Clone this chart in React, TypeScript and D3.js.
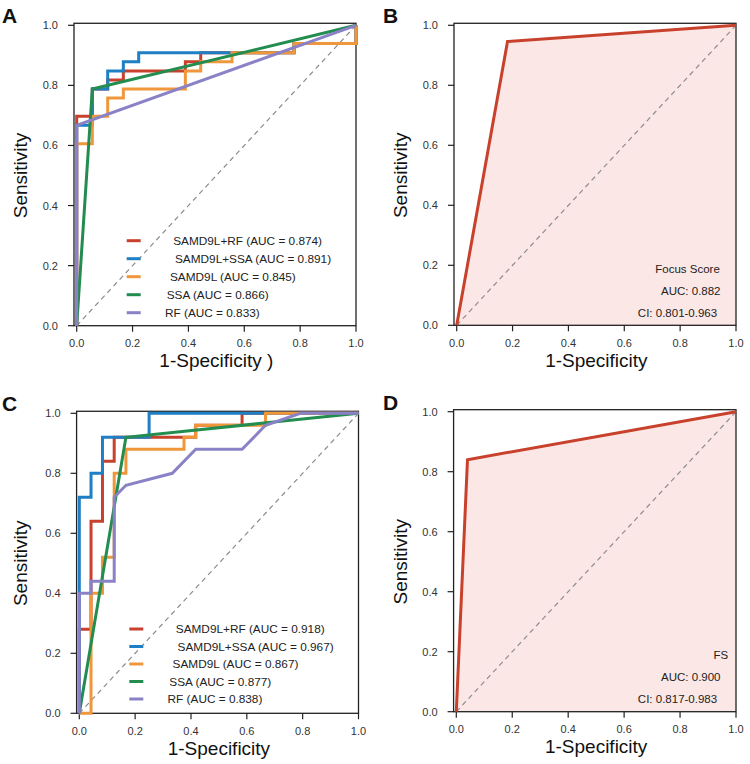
import React from "react";
import * as d3 from "d3";

// ---------- DATA ----------
const ticks = [0, 0.2, 0.4, 0.6, 0.8, 1.0];

const seriesNames = ["SAMD9L+RF", "SAMD9L+SSA", "SAMD9L", "SSA", "RF"];
const aucA = ["0.874", "0.891", "0.845", "0.866", "0.833"];
const aucC = ["0.918", "0.967", "0.867", "0.877", "0.838"];
const seriesColors = ["#c8412c", "#1f7fc4", "#ef973a", "#238c4f", "#8a82c7"];

// Panel A ROC vertices [1-specificity, sensitivity]
const rocA_rf_combo: [number, number][] = [
  [0, 0], [0, 0.697], [0.056, 0.697], [0.056, 0.788], [0.111, 0.788], [0.111, 0.818],
  [0.167, 0.818], [0.167, 0.848], [0.389, 0.848], [0.389, 0.879], [0.444, 0.879],
  [0.444, 0.909], [0.778, 0.909], [0.778, 0.939], [1, 0.939], [1, 1],
];
const rocA_ssa_combo: [number, number][] = [
  [0, 0], [0, 0.667], [0.056, 0.667], [0.056, 0.788], [0.111, 0.788], [0.111, 0.848],
  [0.167, 0.848], [0.167, 0.879], [0.222, 0.879], [0.222, 0.909], [0.778, 0.909],
  [0.778, 0.939], [1, 0.939], [1, 1],
];
const rocA_samd9l: [number, number][] = [
  [0, 0], [0, 0.606], [0.056, 0.606], [0.056, 0.697], [0.111, 0.697], [0.111, 0.758],
  [0.167, 0.758], [0.167, 0.788], [0.389, 0.788], [0.389, 0.848], [0.444, 0.848],
  [0.444, 0.879], [0.556, 0.879], [0.556, 0.909], [0.778, 0.909], [0.778, 0.939],
  [1, 0.939], [1, 1],
];
const rocA_ssa: [number, number][] = [[0, 0], [0.056, 0.788], [1, 1]];
const rocA_rf: [number, number][] = [[0, 0], [0, 0.667], [1, 1]];

// Panel C ROC vertices
const rocC_rf_combo: [number, number][] = [
  [0, 0], [0, 0.28], [0.042, 0.28], [0.042, 0.64], [0.083, 0.64], [0.083, 0.84],
  [0.125, 0.84], [0.125, 0.92], [0.417, 0.92], [0.417, 0.96], [0.583, 0.96],
  [0.583, 1], [1, 1],
];
const rocC_ssa_combo: [number, number][] = [
  [0, 0], [0, 0.72], [0.042, 0.72], [0.042, 0.8], [0.083, 0.8], [0.083, 0.92],
  [0.25, 0.92], [0.25, 1], [1, 1],
];
const rocC_samd9l: [number, number][] = [
  [0, 0], [0.042, 0], [0.042, 0.4], [0.083, 0.4], [0.083, 0.52], [0.125, 0.52],
  [0.125, 0.8], [0.167, 0.8], [0.167, 0.88], [0.375, 0.88], [0.375, 0.92],
  [0.417, 0.92], [0.417, 0.96], [0.667, 0.96], [0.667, 1], [1, 1],
];
const rocC_ssa: [number, number][] = [[0, 0], [0.167, 0.92], [1, 1]];
const rocC_rf: [number, number][] = [
  [0, 0], [0, 0.4], [0.042, 0.4], [0.042, 0.44], [0.125, 0.44], [0.125, 0.72],
  [0.167, 0.76], [0.333, 0.8], [0.417, 0.88], [0.583, 0.88], [0.667, 0.96],
  [0.792, 1], [1, 1],
];

// Panel B / D single-threshold ROC
const rocFocusScore: [number, number][] = [[0, 0], [0.182, 0.946], [1, 1]];
const rocFS: [number, number][] = [[0, 0], [0.04, 0.84], [1, 1]];
const annotB = ["Focus Score", "AUC: 0.882", "CI: 0.801-0.963"];
const annotD = ["FS", "AUC: 0.900", "CI: 0.817-0.983"];

// ---------- LAYOUT ----------
const FONT = "Arial, 'Liberation Sans', Helvetica, sans-serif";
const W = 750;
const H = 764;

type Panel = { letter: string; x0: number; x1: number; y0: number; y1: number; xTitle: string };
const panelA: Panel = { letter: "A", x0: 76.7, x1: 356, y0: 325.7, y1: 25.3, xTitle: "1-Specificity )" };
const panelB: Panel = { letter: "B", x0: 456.7, x1: 736, y0: 325.3, y1: 25.3, xTitle: "1-Specificity" };
const panelC: Panel = { letter: "C", x0: 79.3, x1: 358.5, y0: 713.3, y1: 413.3, xTitle: "1-Specificity" };
const panelD: Panel = { letter: "D", x0: 456.3, x1: 736, y0: 711.7, y1: 411.7, xTitle: "1-Specificity" };

const legendTextOffsets = [46.5, 48.3, 43.3, 40, 38.3];
const annotBX = [687.5, 690.8, 677.5];
const annotDX = [720.8, 690.8, 677.5];

function Frame({ p, children }: { p: Panel; children?: React.ReactNode }) {
  const x = d3.scaleLinear().domain([0, 1]).range([p.x0, p.x1]);
  const y = d3.scaleLinear().domain([0, 1]).range([p.y0, p.y1]);
  const boxLeft = x(-0.0097);
  const boxTop = y(1.0067);
  const tickLen = 6;
  const cx = (p.x0 + p.x1) / 2;
  const cy = (p.y0 + p.y1) / 2;
  const isLeft = p.x0 < 300;
  const letterX = isLeft ? 2 : 383;
  return (
    <g>
      {children}
      <line x1={x(0)} y1={y(0)} x2={x(1)} y2={y(1)} stroke="#8c8c8c" strokeWidth={1.2} strokeDasharray="5,4" />
      <rect x={boxLeft} y={boxTop} width={p.x1 - boxLeft} height={p.y0 - boxTop} fill="none" stroke="#222" strokeWidth={1.3} />
      {ticks.map((t) => (
        <g key={"y" + t}>
          <line x1={boxLeft - tickLen} x2={boxLeft} y1={y(t)} y2={y(t)} stroke="#222" strokeWidth={1.2} />
          <text x={boxLeft - 16} y={y(t) + 4} textAnchor="end" fontSize={11} fill="#333" fontFamily={FONT}>
            {d3.format(".1f")(t)}
          </text>
        </g>
      ))}
      {ticks.map((t) => (
        <g key={"x" + t}>
          <line x1={x(t)} x2={x(t)} y1={p.y0} y2={p.y0 + tickLen} stroke="#222" strokeWidth={1.2} />
          <text x={x(t)} y={p.y0 + 21.5} textAnchor="middle" fontSize={11} fill="#333" fontFamily={FONT}>
            {d3.format(".1f")(t)}
          </text>
        </g>
      ))}
      <text x={cx} y={p.y0 + 41.7} textAnchor="middle" fontSize={19} fill="#111" fontFamily={FONT}>
        {p.xTitle}
      </text>
      <text
        transform={`translate(${isLeft ? 27 : 407},${cy}) rotate(-90)`}
        textAnchor="middle"
        fontSize={19}
        fill="#111"
        fontFamily={FONT}
      >
        Sensitivity
      </text>
      <text x={letterX} y={p.y1 - 2} fontSize={21} fontWeight="bold" fill="#111" fontFamily={FONT}>
        {p.letter}
      </text>
    </g>
  );
}

function MultiPanel({ p, curves, aucs, legendX, legendY, legendStep }: {
  p: Panel; curves: [number, number][][]; aucs: string[]; legendX: number; legendY: number; legendStep: number;
}) {
  const x = d3.scaleLinear().domain([0, 1]).range([p.x0, p.x1]);
  const y = d3.scaleLinear().domain([0, 1]).range([p.y0, p.y1]);
  const line = d3.line<[number, number]>().x((d) => x(d[0])).y((d) => y(d[1]));
  return (
    <g>
      <Frame p={p} />
      {curves.map((c, i) => (
        <path key={i} d={line(c) || ""} fill="none" stroke={seriesColors[i]} strokeWidth={3} strokeLinejoin="miter" />
      ))}
      {seriesNames.map((n, i) => (
        <g key={n}>
          <line x1={legendX} x2={legendX + 14} y1={legendY + i * legendStep} y2={legendY + i * legendStep}
            stroke={seriesColors[i]} strokeWidth={3} />
          <text x={legendX + legendTextOffsets[i]} y={legendY + i * legendStep + 4.2} fontSize={11.8} fill="#222" fontFamily={FONT}>
            {`${n} (AUC = ${aucs[i]})`}
          </text>
        </g>
      ))}
    </g>
  );
}

function SinglePanel({ p, curve, annot, annotX }: { p: Panel; curve: [number, number][]; annot: string[]; annotX: number[] }) {
  const x = d3.scaleLinear().domain([0, 1]).range([p.x0, p.x1]);
  const y = d3.scaleLinear().domain([0, 1]).range([p.y0, p.y1]);
  const line = d3.line<[number, number]>().x((d) => x(d[0])).y((d) => y(d[1]));
  const area = d3.area<[number, number]>().x((d) => x(d[0])).y0(y(0)).y1((d) => y(d[1]));
  const offsets = [-56.7, -34.5, -12.8];
  return (
    <g>
      <path d={area(curve) || ""} fill="#fbe7e5" stroke="none" />
      <Frame p={p} />
      <path d={line(curve) || ""} fill="none" stroke="#c8412c" strokeWidth={3} />
      {annot.map((t, i) => (
        <text key={t} x={annotX[i]} y={p.y0 + offsets[i] + 4} textAnchor="middle" fontSize={11.5} fill="#222" fontFamily={FONT}>
          {t}
        </text>
      ))}
    </g>
  );
}

export default function App() {
  return (
    <svg width={W} height={H} style={{ display: "block", position: "absolute", left: 0, top: 0, background: "#fff" }}>
      <rect x={0} y={0} width={W} height={H} fill="#fff" />
      <MultiPanel
        p={panelA}
        curves={[rocA_rf_combo, rocA_ssa_combo, rocA_samd9l, rocA_ssa, rocA_rf]}
        aucs={aucA}
        legendX={126.7}
        legendY={240.7}
        legendStep={18}
      />
      <SinglePanel p={panelB} curve={rocFocusScore} annot={annotB} annotX={annotBX} />
      <MultiPanel
        p={panelC}
        curves={[rocC_rf_combo, rocC_ssa_combo, rocC_samd9l, rocC_ssa, rocC_rf]}
        aucs={aucC}
        legendX={129.3}
        legendY={629}
        legendStep={17.5}
      />
      <SinglePanel p={panelD} curve={rocFS} annot={annotD} annotX={annotDX} />
    </svg>
  );
}
